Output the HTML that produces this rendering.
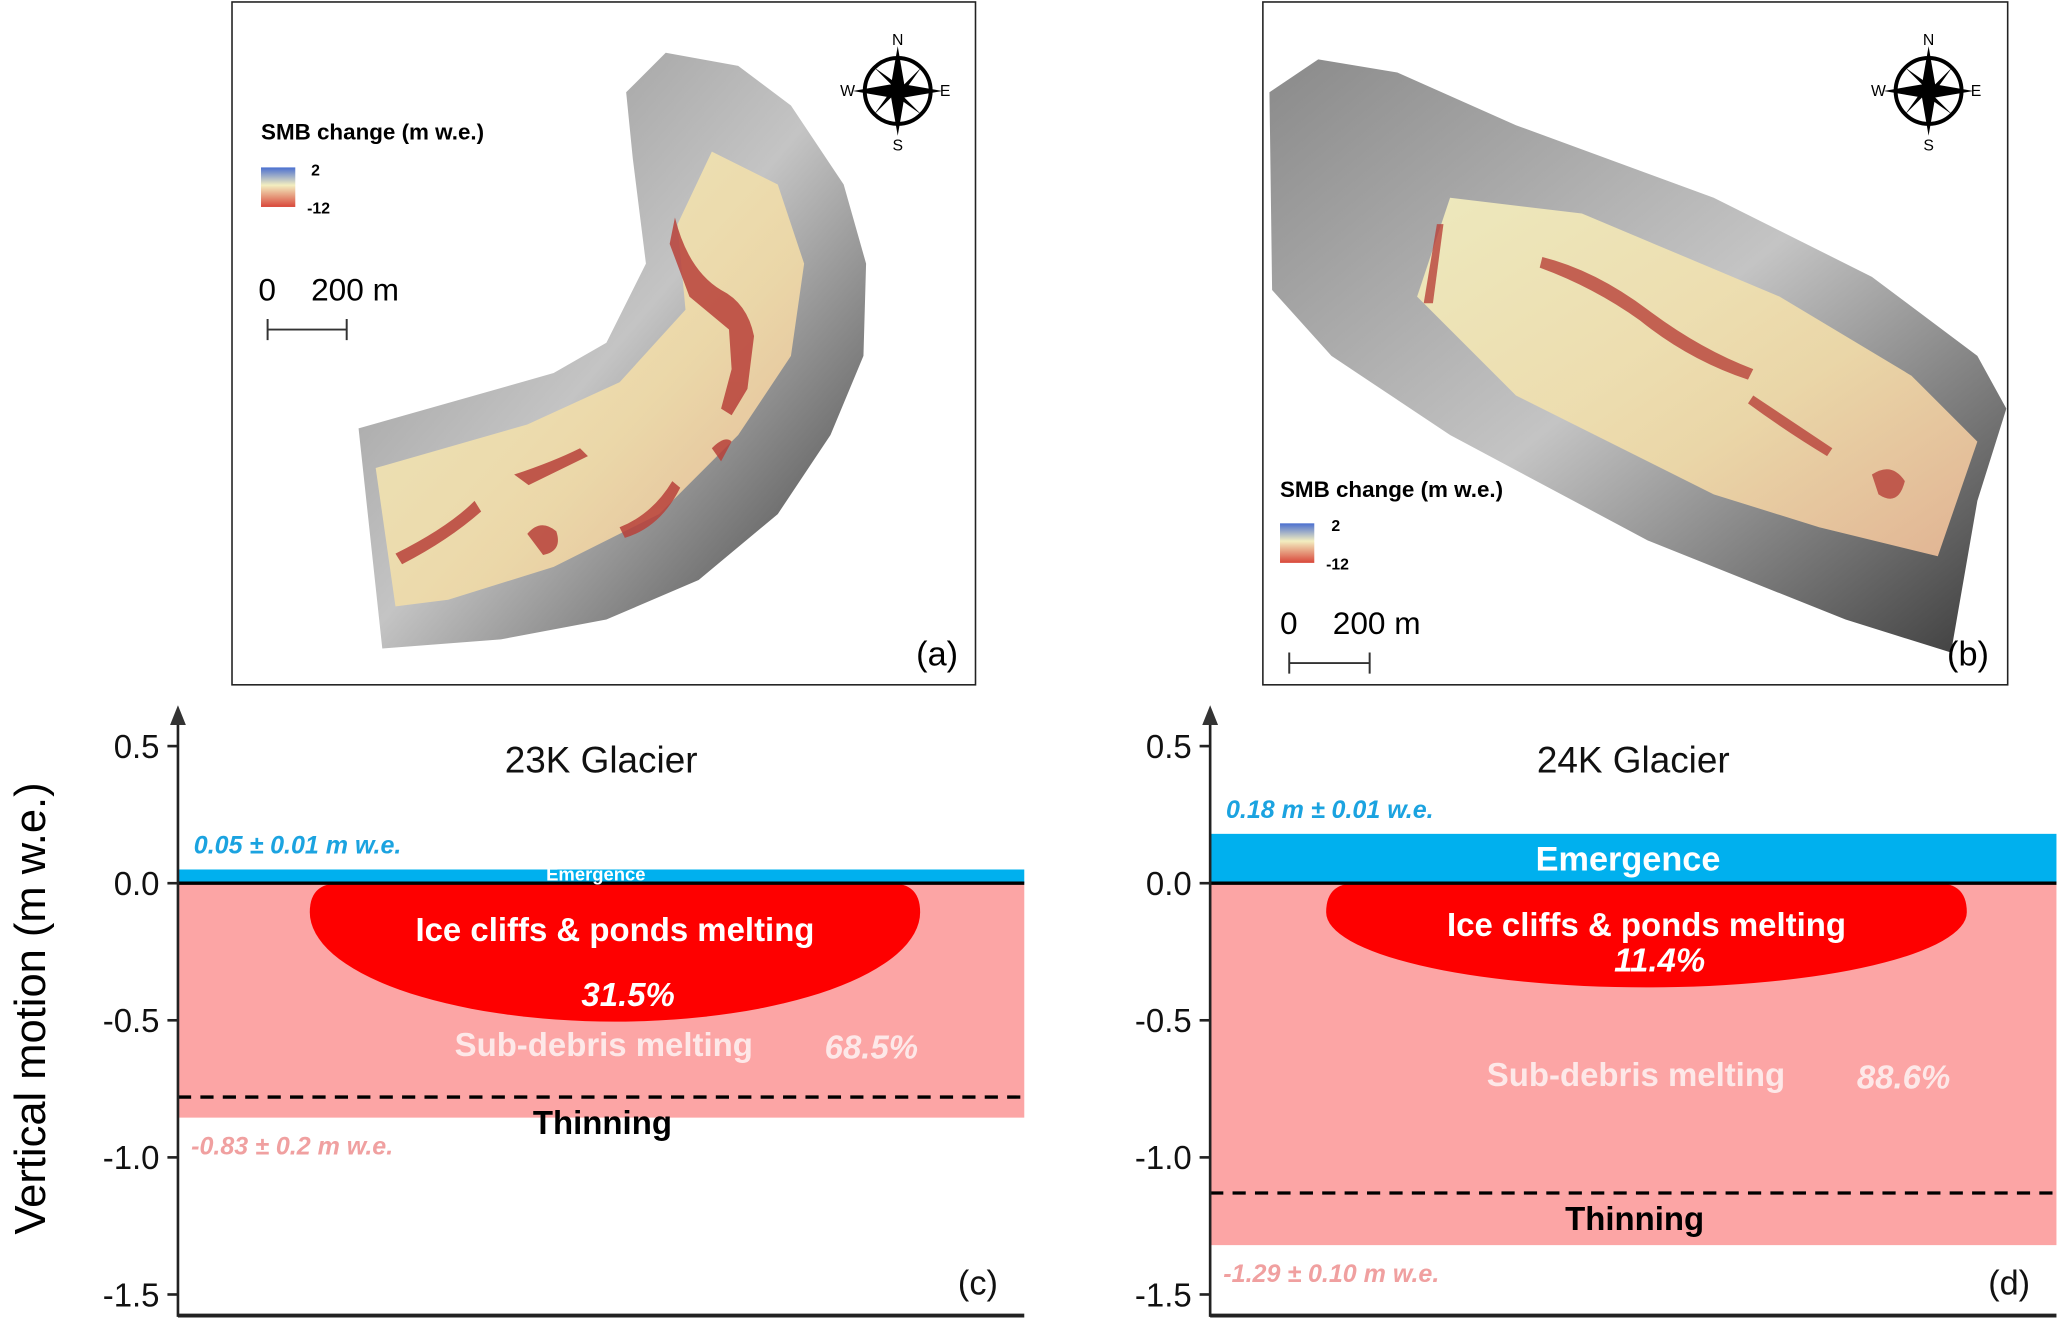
<!DOCTYPE html>
<html><head><meta charset="utf-8"><style>
html,body{margin:0;padding:0;background:#fff}
svg{display:block}
text{font-family:"Liberation Sans",sans-serif}
</style></head><body>
<svg id="fig" width="2067" height="1319" viewBox="0 0 1568 1000.6" preserveAspectRatio="none">
<defs>
<linearGradient id="smb" x1="0" y1="0" x2="0" y2="1"><stop offset="0" stop-color="#4a6fd0"/><stop offset="0.45" stop-color="#f3eec0"/><stop offset="1" stop-color="#d9473a"/></linearGradient>
<linearGradient id="gl" x1="0" y1="0" x2="1" y2="1"><stop offset="0" stop-color="#f1ecbe"/><stop offset="0.6" stop-color="#eed9a8"/><stop offset="1" stop-color="#e8b896"/></linearGradient>
<linearGradient id="rock" x1="0" y1="0" x2="1" y2="1"><stop offset="0" stop-color="#8a8a8a"/><stop offset="0.5" stop-color="#c4c4c4"/><stop offset="1" stop-color="#3a3a3a"/></linearGradient>
</defs>

<g>
<rect x="176" y="1.5" width="564" height="518" fill="#fff" stroke="#222" stroke-width="1.2"/>
<polygon fill="url(#rock)" points="272,325 420,283 460,260 490,200 480,120 475,70 505,40 560,50 600,80 640,140 657,200 655,270 630,330 590,390 530,440 460,470 380,485 290,492"/>
<polygon fill="url(#gl)" opacity="0.95" points="285,355 400,322 470,290 520,235 514,170 540,115 590,140 610,200 600,270 560,330 500,390 420,430 340,455 300,460"/>
<g fill="#b8413a" opacity="0.85">
<path d="M512,165 q10,40 35,55 q20,10 25,35 l-5,40 -12,20 -8,-5 8,-30 -2,-30 -30,-25 -15,-40z"/>
<path d="M390,360 q30,-10 50,-20 l6,6 -45,22z"/>
<path d="M300,420 q40,-20 60,-40 l5,8 q-25,22 -60,40z"/>
<path d="M400,405 q10,-12 22,-2 q5,15 -10,18 z"/>
<path d="M470,400 q25,-10 40,-35 l6,5 q-15,30 -42,38z"/>
<path d="M540,340 q10,-10 15,-5 l-8,15z"/>
</g>
<text x="198" y="106" font-size="17" font-weight="bold">SMB change (m w.e.)</text>
<rect x="198" y="127" width="26" height="30" fill="url(#smb)"/>
<text x="236" y="133" font-size="12" font-weight="bold">2</text>
<text x="233" y="162" font-size="12" font-weight="bold">-12</text>
<text x="196" y="228" font-size="24">0&#160;&#160;&#160;&#160;200 m</text>
<path d="M203,242 v16 M203,250 H263 M263,242 v16" stroke="#333" stroke-width="1.5" fill="none"/>
<g transform="translate(681,69)">
<circle r="25" fill="none" stroke="#000" stroke-width="3"/>
<polygon points="0,-34 5,-5 34,0 5,5 0,34 -5,5 -34,0 -5,-5" fill="#000"/>
<polygon points="-18,-18 3,-3 18,-18 3,3 18,18 -3,3 -18,18 -3,-3" fill="#000"/>
<text x="0" y="-35" font-size="12" text-anchor="middle" font-family="Liberation Serif">N</text>
<text x="0" y="45" font-size="12" text-anchor="middle" font-family="Liberation Serif">S</text>
<text x="-38" y="4" font-size="12" text-anchor="middle" font-family="Liberation Serif">W</text>
<text x="36" y="4" font-size="12" text-anchor="middle" font-family="Liberation Serif">E</text>
</g>
<text x="695" y="505" font-size="26">(a)</text>
</g>

<g>
<rect x="958" y="1.5" width="565" height="518" fill="#fff" stroke="#222" stroke-width="1.2"/>
<polygon fill="url(#rock)" points="963,70 1000,45 1060,55 1150,95 1300,150 1420,210 1500,270 1522,310 1500,380 1480,495 1400,470 1250,410 1100,330 1010,270 965,220"/>
<polygon fill="url(#gl)" opacity="0.95" points="1075,225 1100,150 1200,162 1350,225 1450,285 1500,335 1470,422 1380,400 1300,375 1150,300"/>
<g fill="#b8413a" opacity="0.8">
<path d="M1170,195 q40,10 80,40 q40,30 80,45 l-4,8 q-45,-15 -82,-45 q-35,-25 -76,-40z"/>
<path d="M1330,300 q30,20 60,40 l-4,6 q-30,-18 -60,-40z"/>
<path d="M1420,360 q15,-10 25,5 q-5,20 -20,10z"/>
<path d="M1080,230 l10,-60 5,0 -8,60z"/>
</g>
<text x="971" y="377" font-size="17" font-weight="bold">SMB change (m w.e.)</text>
<rect x="971" y="397" width="26" height="30" fill="url(#smb)"/>
<text x="1010" y="403" font-size="12" font-weight="bold">2</text>
<text x="1006" y="432" font-size="12" font-weight="bold">-12</text>
<text x="971" y="481" font-size="24">0&#160;&#160;&#160;&#160;200 m</text>
<path d="M978,495 v16 M978,503 H1039 M1039,495 v16" stroke="#333" stroke-width="1.5" fill="none"/>
<g transform="translate(1463,69)">
<circle r="25" fill="none" stroke="#000" stroke-width="3"/>
<polygon points="0,-34 5,-5 34,0 5,5 0,34 -5,5 -34,0 -5,-5" fill="#000"/>
<polygon points="-18,-18 3,-3 18,-18 3,3 18,18 -3,3 -18,18 -3,-3" fill="#000"/>
<text x="0" y="-35" font-size="12" text-anchor="middle" font-family="Liberation Serif">N</text>
<text x="0" y="45" font-size="12" text-anchor="middle" font-family="Liberation Serif">S</text>
<text x="-38" y="4" font-size="12" text-anchor="middle" font-family="Liberation Serif">W</text>
<text x="36" y="4" font-size="12" text-anchor="middle" font-family="Liberation Serif">E</text>
</g>
<text x="1477" y="505" font-size="26">(b)</text>
</g>

<text transform="translate(34,765) rotate(-90)" font-size="33" text-anchor="middle">Vertical motion (m w.e.)</text>
<g id="charts"></g>
</svg>
<script>
const ticks = [0.5, 0.0, -0.5, -1.0, -1.5];
const tickLabels = ['0.5', '0.0', '-0.5', '-1.0', '-1.5'];
const glaciers = ['23K Glacier', '24K Glacier'];
const panelLabels = ['(c)', '(d)'];
const emergence = [0.05, 0.18];
const emergenceLabel = ['0.05 ± 0.01 m w.e.', '0.18 m ± 0.01 w.e.'];
const thinning = [-0.78, -1.13];
const pinkBottom = [-0.855, -1.32];
const thinningLabel = ['-0.83 ± 0.2 m w.e.', '-1.29 ± 0.10 m w.e.'];
const iceCliffDepth = [-0.505, -0.38];
const iceCliffPct = ['31.5%', '11.4%'];
const subDebrisPct = ['68.5%', '88.6%'];

const NS = 'http://www.w3.org/2000/svg';
const root = document.getElementById('charts');
const yOf = v => 670 - 208 * v;
const frames = [{x0:135, x1:777, ex0:235, ex1:698}, {x0:918, x1:1560, ex0:1006, ex1:1492}];
function mk(tag, attrs, parent) {
  const e = document.createElementNS(NS, tag);
  for (const k in attrs) e.setAttribute(k, attrs[k]);
  (parent || root).appendChild(e);
  return e;
}
function txt(x, y, s, size, fill, extra, parent) {
  const t = mk('text', Object.assign({x:x, y:y, 'font-size':size, fill:fill}, extra || {}), parent);
  t.textContent = s;
  return t;
}
glaciers.forEach((g, i) => {
  const f = frames[i];
  const cx = (f.x0 + f.x1) / 2;
  const grp = mk('g', {});
  
  
  const pink = mk('rect', {x:f.x0, y:yOf(0), width:f.x1 - f.x0, height:yOf(pinkBottom[i]) - yOf(0), fill:'#fca5a5'}, grp);
  
  
  const em = mk('rect', {x:f.x0, y:yOf(emergence[i]), width:f.x1 - f.x0, height:yOf(0) - yOf(emergence[i]), fill:'#00b0ee'}, grp);
  
  
  const rx = (f.ex1 - f.ex0) / 2, y0 = yOf(0), ry = yOf(iceCliffDepth[i]) - y0;
  const ecx = (f.ex0 + f.ex1) / 2;
  const r = 22;
  const d = `M${f.ex0},${y0 + r} Q${f.ex0},${y0} ${f.ex0 + r},${y0} L${f.ex1 - r},${y0} Q${f.ex1},${y0} ${f.ex1},${y0 + r} A${rx},${ry - r} 0 0 1 ${f.ex0},${y0 + r} Z`;
  const el = mk('path', {d:d, fill:'#fe0000'}, grp);
  
  
  const zl = mk('line', {x1:f.x0, x2:f.x1, y1:yOf(0), y2:yOf(0), stroke:'#000', 'stroke-width':2.5}, grp);
  
  
  const dl = mk('line', {x1:f.x0, x2:f.x1, y1:yOf(thinning[i]), y2:yOf(thinning[i]), stroke:'#000', 'stroke-width':2.5, 'stroke-dasharray':'10,7'}, grp);
  
  
  const ax = mk('line', {x1:f.x0, x2:f.x0, y1:545, y2:999, stroke:'#222', 'stroke-width':2}, grp);
  
  
  const arr = mk('polygon', {points:`${f.x0 - 6},${550} ${f.x0},${535} ${f.x0 + 6},${550}`, fill:'#333'}, grp);
  
  
  const bx = mk('line', {x1:f.x0, x2:f.x1, y1:998, y2:998, stroke:'#222', 'stroke-width':3}, grp);
  
  
  ticks.forEach((t, k) => {
    const tk = mk('line', {x1:f.x0 - 8, x2:f.x0, y1:yOf(t), y2:yOf(t), stroke:'#222', 'stroke-width':2}, grp);
    
    
    const tl = txt(f.x0 - 14, yOf(t) + 9, tickLabels[k], 25, '#111', {'text-anchor':'end'}, grp);
    
    
  });
  const ti = txt(cx, 586, g, 28, '#111', {'text-anchor':'middle'}, grp);
  
  
  const eL = txt(f.x0 + 12, yOf(emergence[i]) - 12, emergenceLabel[i], 19, '#1ba3e0', {'font-weight':'bold', 'font-style':'italic'}, grp);
  
  
  const big = i === 1;
  const eT = txt(cx - 4, big ? yOf(emergence[i] / 2) + 9 : yOf(0) - 2, 'Emergence', big ? 26 : 14, '#fff', {'text-anchor':'middle', 'font-weight':'bold'}, grp);
  
  
  const ic = txt(ecx, yOf(0) + (big ? 40 : 44), 'Ice cliffs & ponds melting', 25, '#fff', {'text-anchor':'middle', 'font-weight':'bold'}, grp);
  
  
  const ip = txt(ecx + 10, yOf(iceCliffDepth[i]) - 12, iceCliffPct[i], 25, '#fff', {'text-anchor':'middle', 'font-weight':'bold', 'font-style':'italic'}, grp);
  
  
  const sy = big ? yOf(-0.74) : yOf(-0.63);
  const sd = txt(cx + 2, sy, 'Sub-debris melting', 25, '#fde8e8', {'text-anchor':'middle', 'font-weight':'bold'}, grp);
  
  
  const sp = txt(cx + 205, sy + 2, subDebrisPct[i], 25, '#fde8e8', {'text-anchor':'middle', 'font-weight':'bold', 'font-style':'italic'}, grp);
  
  
  const th = txt(cx + 1, yOf(thinning[i]) + 28, 'Thinning', 25, '#000', {'text-anchor':'middle', 'font-weight':'bold'}, grp);
  
  
  const tv = txt(f.x0 + 10, yOf(pinkBottom[i]) + 28, thinningLabel[i], 19, '#f0a0a0', {'font-weight':'bold', 'font-style':'italic'}, grp);
  
  
  const pl = txt(f.x1 - 20, 982, panelLabels[i], 26, '#111', {'text-anchor':'end'}, grp);
  
  
});
</script>
</body></html>
